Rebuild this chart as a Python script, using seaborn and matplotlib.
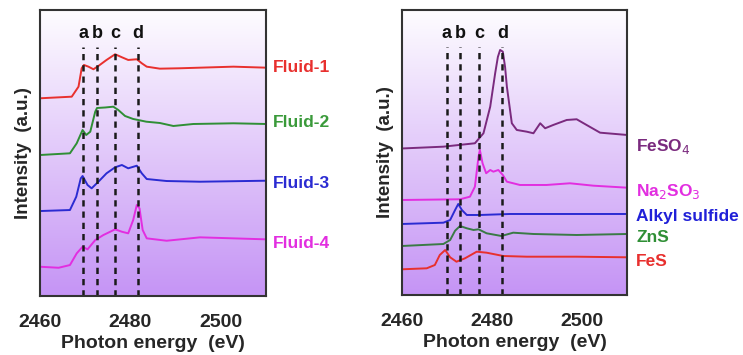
import numpy as np
import pandas as pd
import matplotlib
matplotlib.use("Agg")
import matplotlib.pyplot as plt
import seaborn as sns
from matplotlib.colors import LinearSegmentedColormap

# -----------------------------
# Data (arbitrary units)
# -----------------------------
f1_e = [2460, 2467.0, 2468.5, 2469.2, 2469.7, 2470.7, 2471.8, 2472.9, 2474.7, 2476.6,
        2478.1, 2479.5, 2481.4, 2482.5, 2483.6, 2486.5, 2491, 2495.4, 2502.8, 2510]
f1_i = [197.7, 199.3, 209.3, 227.7, 231, 229.3, 226.7, 230, 236, 241.7,
        238.7, 236, 236.7, 232.7, 229.3, 227.3, 227.7, 228.3, 229.3, 228.3]

f2_e = [2460, 2466.6, 2468.1, 2469.4, 2470.2, 2471.1, 2472.2, 2472.6, 2474.4, 2476.2,
        2477.3, 2478.8, 2480.6, 2481.7, 2483.5, 2486.5, 2489.5, 2493.9, 2502.8, 2510]
f2_i = [141, 142.7, 152.7, 166, 161, 164.3, 184.3, 188, 188.5, 189.3,
        186, 180, 177, 176, 174.3, 173, 170, 172, 172.7, 172]

f3_e = [2460, 2466.6, 2468.0, 2469.0, 2469.4, 2470.5, 2471.4, 2472.9, 2474.7, 2476.6,
        2478.1, 2479.5, 2481.4, 2482.5, 2483.6, 2488, 2495.4, 2510]
f3_i = [85, 86, 99.3, 117.7, 120, 111, 107.7, 114.3, 122.7, 128.7,
        131, 127.7, 130.3, 122.7, 117, 115, 114.3, 115.3]

f4_e = [2460, 2464.1, 2466.6, 2468.1, 2469.4, 2470.5, 2472.2, 2474.0, 2476.6, 2478.1,
        2479.5, 2480.6, 2481.4, 2482.0, 2482.7, 2483.6, 2488, 2495.4, 2510]
f4_i = [29.3, 28.3, 31, 42.7, 49.3, 46.7, 56, 61, 66.7, 64.3,
        62.7, 76, 91, 87.7, 66, 57.7, 55.3, 58.7, 56.7]

feso4_e = [2460, 2469.2, 2476.2, 2478.1, 2479.6, 2480.7, 2481.3, 2481.8, 2482.4, 2482.9,
           2483.3, 2484.4, 2485.5, 2487.7, 2489.2, 2490.7, 2491.8, 2493.6, 2496.6, 2498.8,
           2501, 2504, 2510]
feso4_i = [146.5, 148.3, 151.7, 161.7, 188.3, 221.7, 238, 245, 243.3, 228,
           208.3, 171.7, 165, 163.3, 161.7, 171.7, 166.7, 170, 175, 175.7,
           170, 162.3, 160]

na2so3_e = [2460, 2472.9, 2475.1, 2476.2, 2477.0, 2477.3, 2477.9, 2478.7, 2479.6, 2480.3,
            2481.4, 2482.4, 2483.3, 2486.2, 2492.1, 2497.3, 2502.5, 2510]
na2so3_i = [95, 95.7, 98.3, 108.3, 138.3, 145, 131.7, 121.7, 125, 123.3,
            125, 120, 113.3, 110, 110, 111.7, 109.3, 107.3]

alkyl_e = [2460, 2469.2, 2470.7, 2471.8, 2472.5, 2473.3, 2474.4, 2477.3, 2484, 2495.1, 2510]
alkyl_i = [71, 72.3, 75, 85, 91, 85, 80, 80, 81, 81, 81]

zns_e = [2460, 2469.2, 2470.7, 2471.8, 2472.9, 2474.4, 2475.9, 2477.0, 2478.8, 2482.1,
         2484.7, 2489.2, 2498.8, 2510]
zns_i = [49, 51, 55, 64.3, 69, 66.7, 65, 65.7, 61.7, 59, 62.3, 61, 60, 61]

fes_e = [2460, 2465.5, 2467.3, 2468.4, 2469.6, 2470.7, 2472.1, 2474.0, 2476.6, 2478.8,
         2482.5, 2487.7, 2498.8, 2510]
fes_i = [25.7, 26.7, 30, 40, 45, 37.7, 33.3, 36.7, 43.3, 42.3, 39, 38.3, 38.3, 37.7]

peaks_left = [2469.5, 2472.6, 2476.6, 2481.6]
peaks_right = [2470.0, 2473.0, 2477.1, 2482.3]
peak_names = ["a", "b", "c", "d"]

left_names = ["Fluid-1", "Fluid-2", "Fluid-3", "Fluid-4"]
left_label_y = [228, 173, 113, 53]
right_names = ["FeSO$_4$", "Na$_2$SO$_3$", "Alkyl sulfide", "ZnS", "FeS"]
right_label_y = [148, 103, 78, 57, 33]

left_curves = [(f1_e, f1_i), (f2_e, f2_i), (f3_e, f3_i), (f4_e, f4_i)]
right_curves = [(feso4_e, feso4_i), (na2so3_e, na2so3_i), (alkyl_e, alkyl_i),
                (zns_e, zns_i), (fes_e, fes_i)]
left_colors = ["#e8302e", "#2f8f35", "#2b2bd2", "#e22ee0"]
right_colors = ["#7a2a7e", "#e22ee0", "#2b2bd2", "#3a7a45", "#e8302e"]
left_text_colors = ["#e8302e", "#3a9a3a", "#2b2bd2", "#e22ee0"]
right_text_colors = ["#7a2a7e", "#e22ee0", "#2020d8", "#2f8f35", "#e8302e"]

sns.set_style("white")
plt.rcParams["font.family"] = ["Liberation Sans", "DejaVu Sans"]

fig = plt.figure(figsize=(7.43, 3.55), dpi=100)
ax1 = fig.add_axes([0.054, 0.166, 0.304, 0.806])
ax2 = fig.add_axes([0.541, 0.169, 0.303, 0.803])

# white at the top, lavender at the bottom
grad = LinearSegmentedColormap.from_list("bg", ["#c594f5", "#fefdff"])


def draw_panel(ax, curves, colors, names, label_y, text_colors, peaks, ytop, label_x):
    ax.set_xlim(2460, 2510)
    g = np.linspace(0, 1, 256).reshape(-1, 1)
    ax.imshow(g, cmap=grad, aspect="auto", extent=[2460, 2510, 0, ytop],
              origin="lower", zorder=0)
    ax.set_ylim(0, ytop)
    for (e, i), c in zip(curves, colors):
        df = pd.DataFrame({"energy": e, "intensity": i})
        sns.lineplot(data=df, x="energy", y="intensity", ax=ax, color=c,
                     linewidth=1.4, zorder=3)
    for p, n in zip(peaks, peak_names):
        ax.plot([p, p], [0, ytop - 37], ls=(0, (2.5, 2.0)), color="#1a1a1a",
                lw=1.8, zorder=4)
        ax.text(p, ytop - 24, n, ha="center", va="center", fontsize=13,
                fontweight="bold", color="#111111")
    for n, y, c in zip(names, label_y, text_colors):
        ax.text(label_x, y, n, ha="left", va="center", fontsize=12.5,
                fontweight="bold", color=c, clip_on=False)
    ax.set_xticks([2460, 2480, 2500])
    ax.set_xticklabels(["2460", "2480", "2500"])
    ax.set_yticks([])
    ax.tick_params(axis="x", direction="in", length=4, width=1.5, color="#333333",
                   pad=13, labelsize=14)
    for lbl in ax.get_xticklabels():
        lbl.set_fontweight("bold")
    ax.set_xlabel("Photon energy  (eV)", fontsize=14, fontweight="bold", labelpad=3)
    ax.set_ylabel("Intensity  (a.u.)", fontsize=13.5, fontweight="bold", labelpad=6)
    for s in ax.spines.values():
        s.set_linewidth(1.5)
        s.set_color("#333333")
        s.set_zorder(5)


draw_panel(ax1, left_curves, left_colors, left_names, left_label_y, left_text_colors,
           peaks_left, 286, 2511.5)
draw_panel(ax2, right_curves, right_colors, right_names, right_label_y, right_text_colors,
           peaks_right, 285, 2512)

fig.savefig("out.png", dpi=100)
